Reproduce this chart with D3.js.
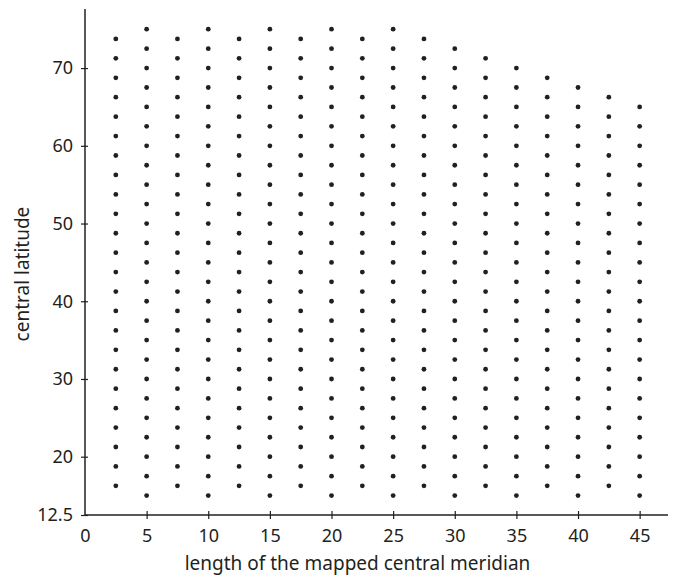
<!DOCTYPE html>
<html>
<head>
<meta charset="utf-8">
<script src="https://cdn.jsdelivr.net/npm/d3@7"></script>
<style>
  body { margin: 0; background: #fff; }
  text { font-family: "Noto Sans", "Open Sans", sans-serif; fill: #231f20; }
</style>
</head>
<body>
<div id="chart"></div>
<script>
// meridian lengths (x) of each column and the highest latitude drawn in it
var meridians = [2.5, 5, 7.5, 10, 12.5, 15, 17.5, 20, 22.5, 25, 27.5, 30, 32.5, 35, 37.5, 40, 42.5, 45];
var maxLat = [73.75, 75, 73.75, 75, 73.75, 75, 73.75, 75, 73.75, 75, 73.75, 72.5, 71.25, 70, 68.75, 67.5, 66.25, 65];
// latitudes used by the odd columns (2.5, 7.5, ...) and by the even ones (5, 10, ...)
var latsOdd = [16.25, 18.75, 21.25, 23.75, 26.25, 28.75, 31.25, 33.75, 36.25, 38.75, 41.25, 43.75,
               46.25, 48.75, 51.25, 53.75, 56.25, 58.75, 61.25, 63.75, 66.25, 68.75, 71.25, 73.75];
var latsEven = [15, 17.5, 20, 22.5, 25, 27.5, 30, 32.5, 35, 37.5, 40, 42.5, 45, 47.5,
                50, 52.5, 55, 57.5, 60, 62.5, 65, 67.5, 70, 72.5, 75];
var xTicks = [0, 5, 10, 15, 20, 25, 30, 35, 40, 45];
var yTicks = [12.5, 20, 30, 40, 50, 60, 70];

var W = 676, H = 579;
var margin = {left: 85, top: 9, right: 8, bottom: 64};

var svg = d3.select("#chart").append("svg")
    .attr("width", W)
    .attr("height", H);

var x = d3.scaleLinear().domain([0, 47.3]).range([margin.left, W - margin.right]);
var y = d3.scaleLinear().domain([12.5, 77.6]).range([H - margin.bottom, margin.top]);

// build the points column by column
var points = [];
meridians.forEach(function(m, i){
    var lats = (i % 2 == 0) ? latsOdd : latsEven;
    lats.forEach(function(l){
        if(l <= maxLat[i]) points.push({x: m, y: l});
    });
});

var xAxis = svg.append("g")
    .attr("transform", "translate(0," + y(12.5) + ")")
    .call(d3.axisBottom(x).tickValues(xTicks).tickSize(0).tickPadding(10));
var yAxis = svg.append("g")
    .attr("transform", "translate(" + x(0) + ",0)")
    .call(d3.axisLeft(y).tickValues(yTicks).tickSize(0).tickPadding(12).tickFormat(function(d){ return d; }));

[xAxis, yAxis].forEach(function(g){
    g.select(".domain").attr("stroke", "#231f20").attr("stroke-width", 1.5);
    g.selectAll("text").attr("font-size", 18).attr("fill", "#231f20")
        .style("font-family", "'Noto Sans', sans-serif");
});
xAxis.select(".domain").attr("d", "M" + x(0) + ",0H" + x(47.3));
yAxis.select(".domain").attr("d", "M0," + y(77.6) + "V" + y(12.5));

// crossing tick marks
xAxis.selectAll(".tick").filter(function(d){ return d > 0; }).append("line")
    .attr("y1", -4).attr("y2", 4).attr("stroke", "#231f20").attr("stroke-width", 1.2);
yAxis.selectAll(".tick").append("line")
    .attr("x1", -4).attr("x2", 3).attr("stroke", "#231f20").attr("stroke-width", 1.2);
xAxis.selectAll(".tick text").attr("y", 27).attr("dy", 0);

svg.append("g").selectAll("circle")
    .data(points)
    .enter().append("circle")
    .attr("cx", function(d){ return x(d.x); })
    .attr("cy", function(d){ return y(d.y); })
    .attr("r", 2.4)
    .attr("fill", "#231f20");

svg.append("text")
    .attr("x", (x(0) + x(47.3)) / 2 - 19)
    .attr("y", 570)
    .attr("text-anchor", "middle")
    .attr("font-size", 19)
    .text("length of the mapped central meridian");

svg.append("text")
    .attr("transform", "translate(29," + y(43.5) + ") rotate(-90)")
    .attr("text-anchor", "middle")
    .attr("font-size", 19)
    .text("central latitude");
</script>
</body>
</html>
